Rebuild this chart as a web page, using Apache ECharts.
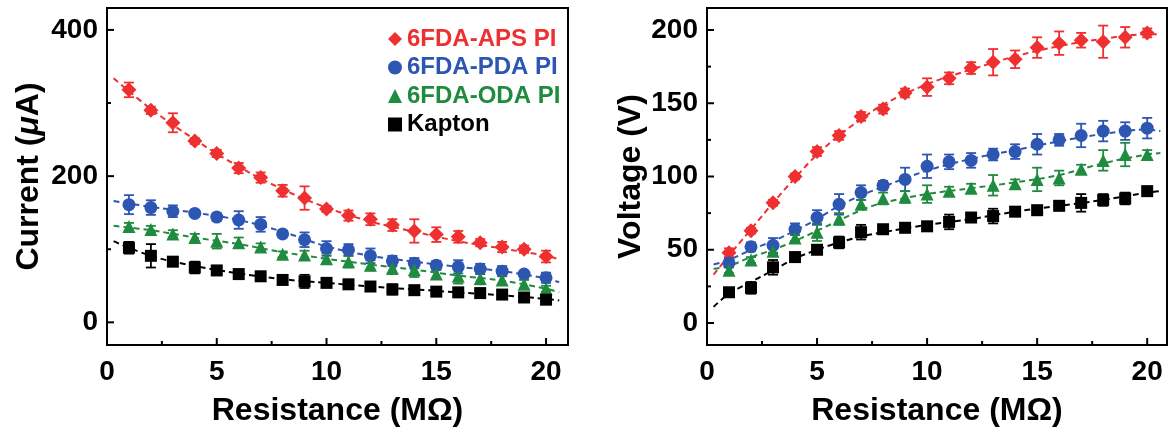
<!DOCTYPE html>
<html><head><meta charset="utf-8">
<script src="https://cdn.jsdelivr.net/npm/echarts@6/dist/echarts.min.js"></script>
<style>html,body{margin:0;padding:0;background:#fff}#c{width:1173px;height:432px}</style>
</head><body><div id="c"></div>
<script>
// ---------- data ----------
const resistance = [1,2,3,4,5,6,7,8,9,10,11,12,13,14,15,16,17,18,19,20];
const seriesNames = ['6FDA-APS PI','6FDA-PDA PI','6FDA-ODA PI','Kapton'];

// Current (uA)
const curAPS    = [318,290,273,248,231,211,198,180,170,155,146,141,133,125,120,117,109,103,100,90];
const curPDA    = [161,157,152,149,144,140,134,121,113,101,99,91,84,81,78,76,73,70,66,61];
const curODA    = [131,127,121,116,111,109,103,93,92,87,83,78,74,72,66,63,60,58,52,46];
const curKapton = [102,91,83,75,71,66,63,58,56,54,52,49,45,44,42,41,40,38,34,31];
const curErrAPS    = [10,5,13,4,5,7,7,8,16,4,7,8,8,16,10,8,5,7,5,8];
const curErrPDA    = [13,10,8,4,5,12,10,4,10,10,8,10,7,7,6,9,7,7,4,7];
const curErrODA    = [5,5,5,5,10,7,5,4,6,7,8,7,8,10,6,10,8,6,6,4];
const curErrKapton = [8,16,6,8,3,6,5,5,9,3,3,4,7,4,3,5,5,5,5,5];
// dashed fits (x, value)
const curFitX      = [0.3,2,4,6,8,10,12,14,16,18,20,20.6];
const curFitAPS    = [334,292,250,213,182,157,138,124,111,101,91,86];
const curFitPDA    = [166,158,150,140,124,104,91,83,76,70,60,55];
const curFitODA    = [132,126,116,107,96,87,79,72,64,57,46,41];
const curFitKapton = [111,91,77,67,59,54,49,45,41,37,32,30];

// Voltage (V)
const volAPS    = [48,63,82,100,117,128,141,146,157,161,167,174,178,180,188,191,193,192,195,198];
const volPDA    = [41,52,53,64,72,81,89,94,98,107,110,111,115,117,122,125,128,131,131,133];
const volODA    = [36,43,49,58,62,71,81,85,86,88,90,92,94,95,98,99,105,111,115,115];
const volKapton = [21,24,38,45,50,55,62,64,65,66,69,72,73,76,77,80,82,84,85,90];
const volErrAPS    = [3,2,2,2,3,3,3,3,3,6,4,4,9,6,7,8,5,11,7,3];
const volErrPDA    = [3,3,5,4,5,7,5,3,8,8,5,5,4,5,7,4,8,7,6,7];
const volErrODA    = [2,2,2,2,6,4,3,4,4,6,3,3,7,3,8,5,3,7,8,3];
const volErrKapton = [3,4,5,3,3,4,5,3,3,2,5,3,5,3,3,3,6,4,4,3];
const volFitX      = [0.3,1,2,3,4,5,6,7,8,10,12,14,16,18,20,20.6];
const volFitAPS    = [33,46,64,82,99,115,128,139,149,163,173,182,189,194,197,197];
const volFitPDA    = [40,43,50,56,63,71,80,87,93,104,112,118,124,129,132,131];
const volFitODA    = [37,39,45,50,56,63,70,77,82,88,92,96,101,109,115,116];
const volFitKapton = [11,20,28,36,44,50,55,59,62,67,71,76,80,84,89,90];

// tick values
const xMajor = [0,5,10,15,20];
const xMinor = [2.5,7.5,12.5,17.5];
const curMajor = [0,200,400], curMinor = [100,300];
const volMajor = [0,50,100,150,200], volMinor = [25,75,125,175];

const colors  = ['#EE3030','#2D56B2','#1F8B3E','#000000'];
const symbols = ['diamond','circle','triangle','rect'];
const symSizes = [15,13,13,12];

// ---------- build ----------
const FONT = '"Liberation Sans", Arial, sans-serif';
const zip = (xs, ys) => xs.map((x,i)=>[x, ys[i]]);
const zip3 = (xs, ys, es) => xs.map((x,i)=>[x, ys[i], es[i]]);

function errSeries(xi, yi, data, color){
  return {
    type:'custom', xAxisIndex:xi, yAxisIndex:yi, silent:true, z:3,
    data: data,
    renderItem: function(params, api){
      const x = api.value(0), y = api.value(1), e = api.value(2);
      const t = api.coord([x, y+e]), b = api.coord([x, y-e]);
      const w = 5;
      const st = {stroke: color, lineWidth: 1.8};
      return {type:'group', children:[
        {type:'line', shape:{x1:t[0],y1:t[1],x2:b[0],y2:b[1]}, style:st},
        {type:'line', shape:{x1:t[0]-w,y1:t[1],x2:t[0]+w,y2:t[1]}, style:st},
        {type:'line', shape:{x1:b[0]-w,y1:b[1],x2:b[0]+w,y2:b[1]}, style:st}
      ]};
    }
  };
}

// inside tick marks, positioned through the axis scales
function tickSeries(xi, yi, xMaj, xMin, yMaj, yMin, yRef){
  const data = [];
  xMaj.forEach(v => data.push([v, yRef, 0, 7]));
  xMin.forEach(v => data.push([v, yRef, 0, 4]));
  yMaj.forEach(v => data.push([0, v, 1, 7]));
  yMin.forEach(v => data.push([0, v, 1, 4]));
  return {
    type:'custom', xAxisIndex:xi, yAxisIndex:yi, silent:true, z:6, clip:false,
    data: data,
    renderItem: function(params, api){
      const cs = params.coordSys;
      const p = api.coord([api.value(0), api.value(1)]);
      const dir = api.value(2), len = api.value(3);
      const st = {stroke:'#000', lineWidth:2};
      if (dir === 0){
        const yb = cs.y + cs.height;
        return {type:'line', shape:{x1:p[0], y1:yb, x2:p[0], y2:yb-len}, style:st};
      }
      return {type:'line', shape:{x1:cs.x, y1:p[1], x2:cs.x+len, y2:p[1]}, style:st};
    }
  };
}

const series = [];
function panel(xi, yi, fitX, fits, vals, errs){
  for (let k=0;k<4;k++){
    series.push({type:'line', xAxisIndex:xi, yAxisIndex:yi, data: zip(fitX, fits[k]), smooth:0.4,
      showSymbol:false, silent:true, z:2,
      lineStyle:{color:colors[k], width:2, type:[6,4]}});
  }
  for (let k=0;k<4;k++) series.push(errSeries(xi, yi, zip3(resistance, vals[k], errs[k]), colors[k]));
  for (let k=0;k<4;k++){
    series.push({type:'scatter', name:seriesNames[k], xAxisIndex:xi, yAxisIndex:yi, z:4,
      data: zip(resistance, vals[k]), symbol:symbols[k], symbolSize:symSizes[k],
      itemStyle:{color:colors[k], opacity:1}});
  }
}
panel(0, 0, curFitX, [curFitAPS,curFitPDA,curFitODA,curFitKapton],
      [curAPS,curPDA,curODA,curKapton], [curErrAPS,curErrPDA,curErrODA,curErrKapton]);
panel(1, 1, volFitX, [volFitAPS,volFitPDA,volFitODA,volFitKapton],
      [volAPS,volPDA,volODA,volKapton], [volErrAPS,volErrPDA,volErrODA,volErrKapton]);
series.push(tickSeries(0, 0, xMajor, xMinor, curMajor, curMinor, 0));
series.push(tickSeries(1, 1, xMajor, xMinor, volMajor, volMinor, 0));

const titleStyle = {fontFamily:FONT, fontWeight:'bold', fontSize:32, color:'#000',
  rich:{i:{fontFamily:FONT, fontWeight:'bold', fontStyle:'italic', fontSize:32, color:'#000'}}};
const tickLabel = {margin:13, fontFamily:FONT, fontWeight:'bold', fontSize:28, color:'#000'};

function xAxis(gi, max){
  return {type:'value', gridIndex:gi, min:0, max:max, position:'bottom',
     name:'Resistance (MΩ)', nameLocation:'middle', nameGap:50, nameTextStyle:titleStyle,
     axisLine:{show:true, onZero:false, lineStyle:{color:'#000', width:2}},
     axisTick:{show:false},
     axisLabel:Object.assign({customValues:xMajor}, tickLabel),
     splitLine:{show:false}};
}
function yAxis(gi, min, max, major, name, gap){
  return {type:'value', gridIndex:gi, min:min, max:max, position:'left',
     name:name, nameLocation:'middle', nameGap:gap, nameRotate:90, nameTextStyle:titleStyle,
     axisLine:{show:true, onZero:false, lineStyle:{color:'#000', width:2}},
     axisTick:{show:false},
     axisLabel:Object.assign({customValues:major}, tickLabel, {margin:9}),
     splitLine:{show:false}};
}

const option = {
  animation:false,
  backgroundColor:'#fff',
  grid:[
    {left:107, top:8, width:461, height:339, show:true, borderColor:'#000', borderWidth:2, backgroundColor:'transparent'},
    {left:707, top:8, width:460, height:339, show:true, borderColor:'#000', borderWidth:2, backgroundColor:'transparent'}
  ],
  xAxis:[xAxis(0, 21), xAxis(1, 20.9)],
  yAxis:[yAxis(0, -31, 430, curMajor, 'Current ({i|μ}A)', 62),
         yAxis(1, -15, 215, volMajor, 'Voltage (V)', 59)],
  legend:{
    orient:'vertical', left:383, top:22, itemWidth:14, itemHeight:14, itemGap:4.5,
    selectedMode:false,
    textStyle:{fontFamily:FONT, fontWeight:'bold', fontSize:24},
    data: seriesNames.map((n,k)=>({name:n, textStyle:{color:colors[k]}}))
  },
  series: series
};
const chart = echarts.init(document.getElementById('c'), null, {renderer:'canvas'});
chart.setOption(option);
</script></body></html>
